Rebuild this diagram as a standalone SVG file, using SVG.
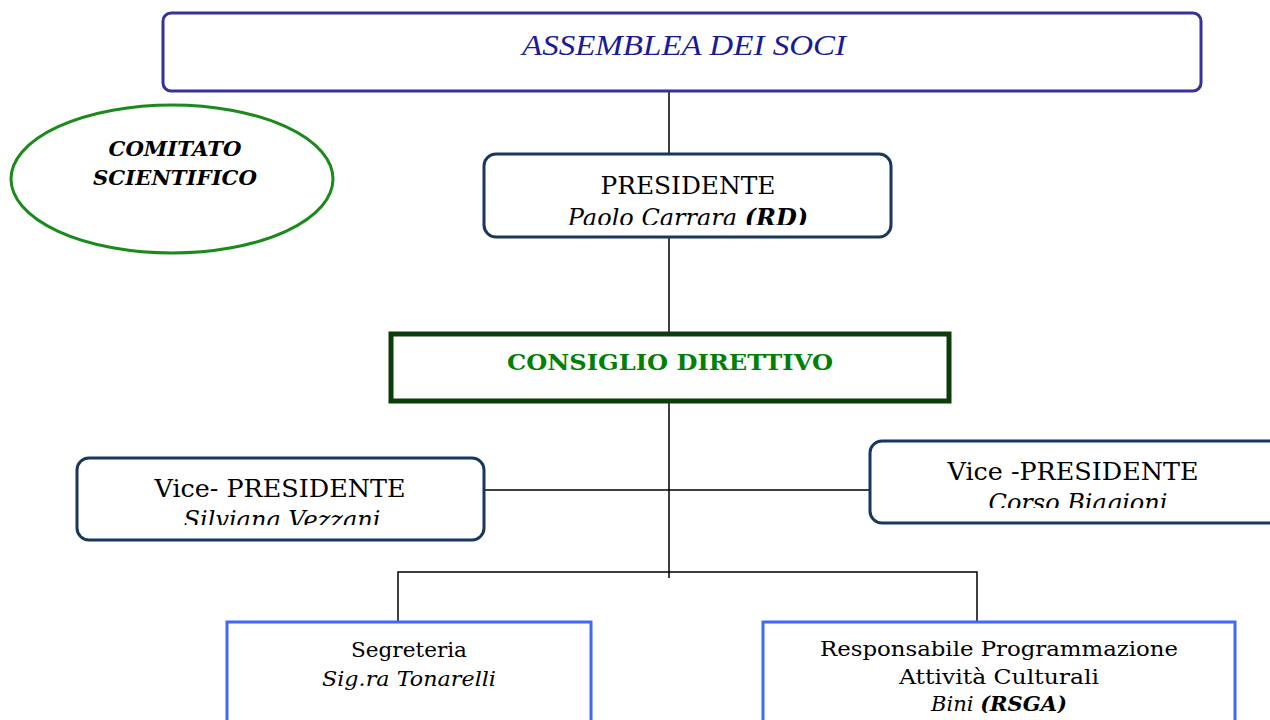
<svg xmlns="http://www.w3.org/2000/svg" width="1270" height="720" viewBox="0 0 1270 720">
<style>
.t{font-family:"DejaVu Serif","Liberation Serif",serif;fill:#000;text-anchor:middle}
.i{font-style:italic}
.b{font-weight:bold}
.navy{fill:#fff;stroke:#17375E;stroke-width:3}
.blue{fill:#fff;stroke:#4169F5;stroke-width:3}
.conn{stroke:#000;stroke-width:1.5;fill:none}
</style>
<defs>
<clipPath id="cPres"><rect x="484" y="154" width="407" height="71"/></clipPath>
<clipPath id="cVL"><rect x="77" y="458" width="407" height="67"/></clipPath>
<clipPath id="cVR"><rect x="870" y="441" width="400" height="67"/></clipPath>
<clipPath id="cResp"><rect x="763" y="622" width="472" height="91"/></clipPath>
</defs>
<rect width="1270" height="720" fill="#fff"/>
<g id="connectors">
<line class="conn" x1="669" y1="91" x2="669" y2="154"/>
<line class="conn" x1="669" y1="237" x2="669" y2="334"/>
<line class="conn" x1="669" y1="401" x2="669" y2="578"/>
<line class="conn" x1="484" y1="490" x2="870" y2="490"/>
<polyline class="conn" points="398,622 398,572 977,572 977,622"/>
</g>
<g id="assemblea">
<rect x="163" y="13" width="1038" height="78" rx="8" fill="#fff" stroke="#333399" stroke-width="3"/>
<text x="684" y="55" font-family="Liberation Serif,serif" font-style="italic" font-size="30" fill="#1a1a99" text-anchor="middle" textLength="324" lengthAdjust="spacingAndGlyphs">ASSEMBLEA DEI SOCI</text>
</g>
<g id="comitato">
<ellipse cx="172" cy="179" rx="161" ry="74" fill="#fff" stroke="#1a8a1a" stroke-width="3"/>
<text class="t i b" x="175" y="156" font-size="20" textLength="133" lengthAdjust="spacingAndGlyphs">COMITATO</text>
<text class="t i b" x="175" y="185" font-size="20" textLength="164" lengthAdjust="spacingAndGlyphs">SCIENTIFICO</text>
</g>
<g id="presidente">
<rect class="navy" x="484" y="154" width="407" height="83" rx="12"/>
<text class="t" x="688" y="194" font-size="24" textLength="175" lengthAdjust="spacingAndGlyphs">PRESIDENTE</text>
<text class="t" x="688" y="226" font-size="24" clip-path="url(#cPres)"><tspan class="i">Paolo Carrara </tspan><tspan class="i b">(RD)</tspan></text>
</g>
<g id="consiglio">
<rect x="391" y="334" width="558" height="67" fill="#fff" stroke="#0a3d0a" stroke-width="5"/>
<text class="t b" x="670" y="370" font-size="23" style="fill:#008000" textLength="326" lengthAdjust="spacingAndGlyphs">CONSIGLIO DIRETTIVO</text>
</g>
<g id="vice-sx">
<rect class="navy" x="77" y="458" width="407" height="82" rx="12"/>
<text class="t" x="280" y="497" font-size="24" textLength="251" lengthAdjust="spacingAndGlyphs">Vice- PRESIDENTE</text>
<text class="t i" x="282" y="528" font-size="24" clip-path="url(#cVL)">Silviana Vezzani</text>
</g>
<g id="vice-dx">
<rect class="navy" x="870" y="441" width="420" height="82" rx="12"/>
<text class="t" x="1073" y="480" font-size="24" textLength="251" lengthAdjust="spacingAndGlyphs">Vice -PRESIDENTE</text>
<text class="t i" x="1078" y="511" font-size="24" clip-path="url(#cVR)">Corso Biagioni</text>
</g>
<g id="segreteria">
<rect class="blue" x="227" y="622" width="364" height="110"/>
<text class="t" x="409" y="657" font-size="21" textLength="116" lengthAdjust="spacingAndGlyphs">Segreteria</text>
<text class="t i" x="409" y="686" font-size="21" textLength="174" lengthAdjust="spacingAndGlyphs">Sig.ra Tonarelli</text>
</g>
<g id="responsabile">
<rect class="blue" x="763" y="622" width="472" height="110"/>
<text class="t" x="999" y="656" font-size="21" textLength="358" lengthAdjust="spacingAndGlyphs">Responsabile Programmazione</text>
<text class="t" x="999" y="684" font-size="21" textLength="200" lengthAdjust="spacingAndGlyphs">Attività Culturali</text>
<text class="t" x="999" y="711" font-size="21" clip-path="url(#cResp)"><tspan class="i">Bini </tspan><tspan class="i b">(RSGA)</tspan></text>
</g>
</svg>
